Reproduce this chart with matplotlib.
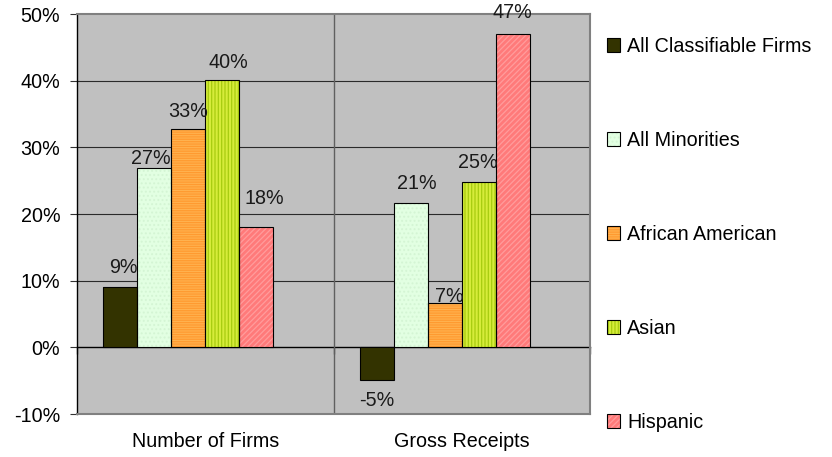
import matplotlib
matplotlib.use("Agg")
import matplotlib.pyplot as plt
from matplotlib.patches import Patch
from matplotlib.legend_handler import HandlerTuple
from matplotlib.ticker import FuncFormatter

categories = ["Number of Firms", "Gross Receipts"]
series_names = ["All Classifiable Firms", "All Minorities", "African American", "Asian", "Hispanic"]
all_classifiable = [9.0, -4.9]
all_minorities = [26.9, 21.6]
african_american = [32.8, 6.6]
asian = [40.1, 24.8]
hispanic = [18.1, 47.0]
value_labels = [["9%", "-5%"], ["27%", "21%"], ["33%", "7%"], ["40%", "25%"], ["18%", "47%"]]
yticks = [-10, 0, 10, 20, 30, 40, 50]

series = [all_classifiable, all_minorities, african_american, asian, hispanic]

# styles
faces = ["#333300", "#E2FFE2", "#FFB24F", "#D6EC3A", "#FF7A7A"]
hatch_colors = ["#333300", "#D4F5D4", "#FF9A30", "#A8CC10", "#FF9C9C"]
hatches = [None, "....", "-------", "|||||", "//////"]
# label offsets in pixels (dx, dy) for each series / category
label_offsets = [[(3, 20), (0, -21)], [(-3, 9), (6, 20)], [(0, 17), (5, 7)],
                 [(6, 17), (-1, 19)], [(8, 28), (0, 21)]]
FS = 14.2

plt.rcParams["font.family"] = ["Liberation Sans", "DejaVu Sans"]
plt.rcParams["hatch.linewidth"] = 0.9

fig = plt.figure(figsize=(8.32, 4.57), dpi=100)
ax = fig.add_axes([77/832, 1-414/457, (590-77)/832, (414-14)/457])
ax.set_facecolor("#C0C0C0")

w = 0.1326
x = [0, 1]
handles = []
for i, (vals, name) in enumerate(zip(series, series_names)):
    pos = [xi + (i - 2.5) * w for xi in x]
    ax.bar(pos, vals, width=w, color=faces[i], edgecolor=hatch_colors[i],
           hatch=hatches[i], linewidth=0, zorder=3)
    ax.bar(pos, vals, width=w, facecolor="none", edgecolor="black",
           linewidth=0.8, zorder=4)
    for j, (p, v) in enumerate(zip(pos, vals)):
        dx, dy = label_offsets[i][j]
        ax.annotate(value_labels[i][j], (p, v), xytext=(dx, dy),
                    textcoords="offset pixels", ha="center", va="center",
                    fontsize=FS, color="#1a1a1a", zorder=5)
    h1 = Patch(facecolor=faces[i], edgecolor=hatch_colors[i], hatch=hatches[i], linewidth=0)
    h2 = Patch(facecolor="none", edgecolor="black", linewidth=0.8)
    handles.append((h1, h2))

ax.set_xlim(-0.5, 1.5)
ax.set_ylim(-10, 50)
ax.set_yticks(yticks)
ax.yaxis.set_major_formatter(FuncFormatter(lambda v, p: f"{v:.0f}%"))
ax.tick_params(axis="y", direction="out", length=5, width=0.8, labelsize=FS, pad=7,
               color="#333333")
ax.set_xticks(x)
ax.set_xticklabels(categories)
ax.tick_params(axis="x", length=0, labelsize=FS, pad=13)

for yv in [10, 20, 30, 40]:
    ax.axhline(yv, color="#2a2a2a", linewidth=0.8, zorder=1)
ax.axvline(0.5, color="#606060", linewidth=1.0, zorder=1)

for s in ["top", "right", "bottom"]:
    ax.spines[s].set_color("#808080")
    ax.spines[s].set_linewidth(1.5)
ax.spines["left"].set_color("black")
ax.spines["left"].set_linewidth(1.0)

sec = ax.secondary_xaxis(1/6)
sec.set_xticks([-0.5, 0.5, 1.5])
sec.set_xticklabels([])
sec.tick_params(direction="out", length=5, width=1.0, color="#555555")
sec.spines["bottom"].set_color("black")
sec.spines["bottom"].set_linewidth(1.0)
sec.spines["bottom"].set_zorder(4.5)

fig.legend(handles, series_names, handler_map={tuple: HandlerTuple(ndivide=1, pad=0)},
           loc="upper left", bbox_to_anchor=(607/832, 1-37/457), frameon=False,
           fontsize=FS, handlelength=0.68, handleheight=0.68, handletextpad=0.35,
           labelspacing=3.8, borderpad=0, borderaxespad=0)

fig.savefig("out.png", dpi=100, facecolor="white")
